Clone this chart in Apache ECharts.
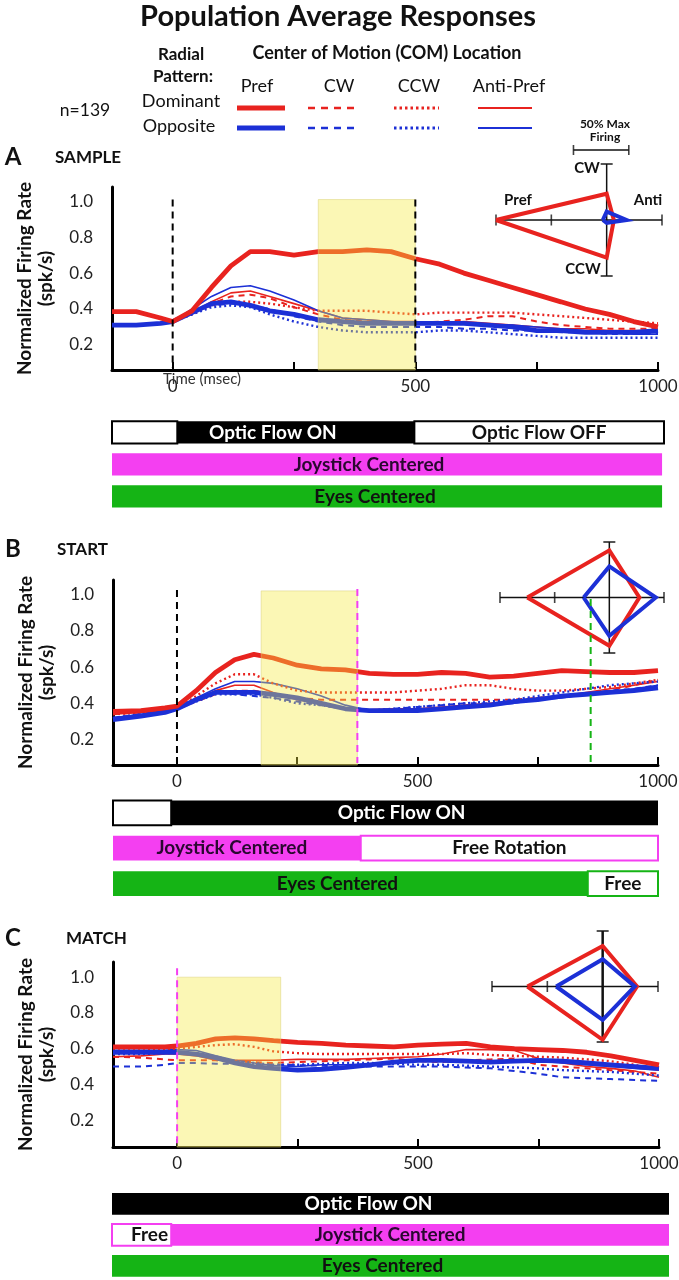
<!DOCTYPE html>
<html>
<head>
<meta charset="utf-8">
<script src="https://cdn.jsdelivr.net/npm/echarts@6/dist/echarts.min.js"></script>
<style>
html, body { margin: 0; background: #fff; }
#chart { width: 679px; height: 1280px; }
</style>
</head>
<body>
<div id="chart"></div>
<script>
"use strict";
// time points (msec) for each panel
const tA = [-125, -75, -25, 0, 40, 80, 120, 160, 200, 250, 300, 350, 400, 450, 500, 550, 600, 650, 700, 750, 800, 850, 900, 950, 1000];
const tB = [-133, -75, -25, 0, 40, 80, 120, 160, 200, 250, 300, 350, 400, 450, 500, 550, 600, 650, 700, 750, 800, 850, 900, 950, 1000];
const tC = [-133, -75, -25, 0, 40, 80, 120, 160, 200, 250, 300, 350, 400, 450, 500, 550, 600, 650, 700, 750, 800, 850, 900, 950, 1000];

// A: SAMPLE
const redPrefA = [0.385, 0.385, 0.35, 0.33, 0.39, 0.52, 0.64, 0.72, 0.72, 0.70, 0.72, 0.72, 0.73, 0.72, 0.68, 0.65, 0.60, 0.56, 0.52, 0.48, 0.44, 0.40, 0.37, 0.33, 0.30];
const redCwA = [0.31, 0.31, 0.32, 0.33, 0.38, 0.43, 0.47, 0.48, 0.46, 0.41, 0.37, 0.34, 0.33, 0.32, 0.32, 0.33, 0.34, 0.36, 0.36, 0.33, 0.31, 0.30, 0.29, 0.29, 0.29];
const redCcwA = [0.31, 0.31, 0.32, 0.33, 0.37, 0.42, 0.44, 0.44, 0.43, 0.41, 0.39, 0.39, 0.39, 0.38, 0.37, 0.38, 0.38, 0.38, 0.38, 0.37, 0.36, 0.35, 0.34, 0.33, 0.32];
const redAntiA = [0.31, 0.31, 0.32, 0.33, 0.38, 0.44, 0.49, 0.50, 0.47, 0.43, 0.39, 0.35, 0.34, 0.33, 0.33, 0.32, 0.33, 0.32, 0.31, 0.30, 0.29, 0.29, 0.28, 0.28, 0.28];
const bluePrefA = [0.31, 0.31, 0.32, 0.33, 0.38, 0.43, 0.44, 0.42, 0.39, 0.37, 0.34, 0.33, 0.32, 0.32, 0.32, 0.32, 0.32, 0.31, 0.30, 0.28, 0.28, 0.27, 0.27, 0.27, 0.28];
const blueCwA = [0.31, 0.31, 0.32, 0.33, 0.38, 0.42, 0.43, 0.42, 0.40, 0.36, 0.33, 0.31, 0.30, 0.30, 0.30, 0.30, 0.29, 0.29, 0.28, 0.28, 0.27, 0.27, 0.26, 0.26, 0.26];
const blueCcwA = [0.31, 0.31, 0.32, 0.33, 0.37, 0.41, 0.42, 0.41, 0.37, 0.33, 0.30, 0.28, 0.27, 0.27, 0.27, 0.28, 0.28, 0.27, 0.26, 0.25, 0.24, 0.24, 0.24, 0.24, 0.24];
const blueAntiA = [0.31, 0.31, 0.32, 0.33, 0.40, 0.47, 0.52, 0.53, 0.50, 0.45, 0.39, 0.35, 0.34, 0.33, 0.32, 0.32, 0.32, 0.31, 0.31, 0.30, 0.29, 0.28, 0.27, 0.26, 0.26];

// B: START
const redPrefB = [0.355, 0.36, 0.375, 0.385, 0.47, 0.57, 0.64, 0.67, 0.65, 0.61, 0.59, 0.585, 0.565, 0.56, 0.56, 0.57, 0.565, 0.545, 0.55, 0.565, 0.58, 0.575, 0.57, 0.57, 0.58];
const redCwB = [0.34, 0.35, 0.36, 0.37, 0.41, 0.45, 0.47, 0.47, 0.45, 0.43, 0.42, 0.42, 0.42, 0.42, 0.42, 0.42, 0.42, 0.42, 0.42, 0.43, 0.44, 0.45, 0.47, 0.50, 0.53];
const redCcwB = [0.34, 0.35, 0.36, 0.37, 0.44, 0.51, 0.56, 0.56, 0.51, 0.47, 0.46, 0.46, 0.46, 0.46, 0.47, 0.48, 0.50, 0.50, 0.48, 0.47, 0.47, 0.48, 0.49, 0.51, 0.53];
const redAntiB = [0.34, 0.35, 0.36, 0.37, 0.42, 0.47, 0.50, 0.50, 0.46, 0.42, 0.40, 0.37, 0.365, 0.37, 0.37, 0.38, 0.39, 0.40, 0.41, 0.43, 0.44, 0.46, 0.48, 0.50, 0.52];
const bluePrefB = [0.31, 0.33, 0.35, 0.37, 0.42, 0.46, 0.46, 0.46, 0.45, 0.43, 0.40, 0.37, 0.36, 0.36, 0.36, 0.37, 0.38, 0.39, 0.41, 0.42, 0.44, 0.45, 0.46, 0.47, 0.485];
const blueCwB = [0.32, 0.34, 0.355, 0.37, 0.42, 0.46, 0.45, 0.44, 0.43, 0.41, 0.39, 0.37, 0.36, 0.37, 0.38, 0.39, 0.40, 0.40, 0.41, 0.43, 0.44, 0.45, 0.47, 0.48, 0.50];
const blueCcwB = [0.32, 0.34, 0.355, 0.37, 0.41, 0.45, 0.45, 0.45, 0.43, 0.40, 0.39, 0.37, 0.36, 0.37, 0.38, 0.39, 0.40, 0.41, 0.42, 0.44, 0.46, 0.48, 0.50, 0.51, 0.52];
const blueAntiB = [0.32, 0.34, 0.355, 0.37, 0.43, 0.48, 0.52, 0.52, 0.51, 0.48, 0.44, 0.39, 0.36, 0.36, 0.37, 0.37, 0.38, 0.39, 0.40, 0.42, 0.43, 0.45, 0.46, 0.48, 0.50];

// C: MATCH
const redPrefC = [0.61, 0.61, 0.61, 0.615, 0.63, 0.655, 0.66, 0.655, 0.645, 0.635, 0.63, 0.62, 0.615, 0.61, 0.62, 0.625, 0.63, 0.61, 0.60, 0.595, 0.59, 0.58, 0.56, 0.535, 0.51];
const redCwC = [0.555, 0.55, 0.54, 0.535, 0.535, 0.535, 0.53, 0.525, 0.52, 0.525, 0.53, 0.535, 0.54, 0.545, 0.53, 0.525, 0.535, 0.54, 0.545, 0.51, 0.50, 0.49, 0.48, 0.47, 0.46];
const redCcwC = [0.59, 0.59, 0.595, 0.60, 0.61, 0.62, 0.625, 0.61, 0.585, 0.575, 0.57, 0.57, 0.57, 0.57, 0.57, 0.57, 0.575, 0.565, 0.56, 0.555, 0.55, 0.54, 0.53, 0.51, 0.48];
const redAntiC = [0.555, 0.56, 0.57, 0.57, 0.56, 0.535, 0.535, 0.535, 0.535, 0.54, 0.54, 0.54, 0.545, 0.55, 0.555, 0.57, 0.595, 0.595, 0.59, 0.545, 0.52, 0.50, 0.49, 0.475, 0.44];
const bluePrefC = [0.58, 0.58, 0.58, 0.58, 0.57, 0.55, 0.52, 0.50, 0.49, 0.48, 0.485, 0.495, 0.51, 0.525, 0.535, 0.535, 0.53, 0.525, 0.53, 0.535, 0.53, 0.52, 0.51, 0.50, 0.49];
const blueCwC = [0.50, 0.50, 0.51, 0.52, 0.52, 0.516, 0.515, 0.512, 0.51, 0.508, 0.505, 0.50, 0.50, 0.50, 0.50, 0.50, 0.495, 0.49, 0.475, 0.46, 0.44, 0.435, 0.43, 0.425, 0.42];
const blueCcwC = [0.57, 0.57, 0.575, 0.575, 0.57, 0.55, 0.53, 0.52, 0.51, 0.51, 0.515, 0.52, 0.52, 0.515, 0.51, 0.51, 0.505, 0.50, 0.495, 0.49, 0.48, 0.475, 0.47, 0.46, 0.45];
const blueAntiC = [0.60, 0.60, 0.60, 0.595, 0.59, 0.56, 0.535, 0.52, 0.505, 0.50, 0.51, 0.51, 0.515, 0.52, 0.535, 0.535, 0.535, 0.53, 0.535, 0.53, 0.52, 0.51, 0.50, 0.49, 0.48];

// analysis windows (yellow) and event markers
const windowA = [300, 500];
const windowB = [175, 375];
const windowC = [0, 215];
const eventTimesA = [0, 500];
const eventTimesB = [0, 375, 860];
const eventTimesC = [0];
const eventTopsA = [1.01, 1.01];
const eventTopsB = [1.025, 1.03, 0.975];
const eventTopsC = [1.05];

// radial plots: [Pref, CW, Anti, CCW] in units of 50% max firing
const domInsetA = [2.0, 0.47, 0.13, 0.67];
const oppInsetA = [0.07, 0.15, 0.36, 0.05];
const domInsetB = [1.5, 0.85, 0.55, 0.87];
const oppInsetB = [0.47, 0.56, 0.85, 0.69];
const domInsetC = [1.36, 0.73, 0.62, 0.96];
const oppInsetC = [0.84, 0.49, 0.58, 0.60];
const insetHArm = [-2, 1];
const insetVArm = [-1, 1];
const insetHTicks = [-2, -1, 1];
const insetVTicks = [-1, 1];
const scaleBarX = [-0.6, 0.4];
const scaleBarY = 1.25;

// task-epoch bars
const barStartA = [-125, 500, 10, -125, -125];
const barEndA = [10, 1016, 500, 1012, 1012];
const barRowA = [0, 0, 0, 1, 2];
const barKindA = ["open", "open", "black", "magenta", "green"];
const barTextA = ["", "Optic Flow OFF", "Optic Flow ON", "Joystick Centered", "Eyes Centered"];
const barStartB = [-133, -12, -133, 382, -133, 854];
const barEndB = [-12, 1000, 382, 1000, 854, 1000];
const barRowB = [0, 0, 1, 1, 2, 2];
const barKindB = ["open", "black", "magenta", "magentaOpen", "green", "greenOpen"];
const barTextB = ["", "Optic Flow ON", "Joystick Centered", "Free Rotation", "Eyes Centered", "Free"];
const barStartC = [-135, -135, -12, -135];
const barEndC = [1022, -12, 1022, 1022];
const barRowC = [0, 1, 1, 2];
const barKindC = ["black", "magentaOpen", "magenta", "green"];
const barTextC = ["Optic Flow ON", "Free", "Joystick Centered", "Eyes Centered"];

// label nudges (px) inside the epoch bars
const barShiftA = [0, 0, -23, -18, -12];
const barShiftB = [0, -13, -5, 0, -13, 0];
const barShiftC = [-22, 8, -30, -8];

const RED = "#e8231f";
const BLUE = "#1c30d6";
const MAGENTA = "#f43ff1";
const GREEN = "#15b415";
const FONT = "Lato";

const kinds = {
    Anti: { width: 1.6, type: "solid" },
    CW: { width: 2, type: [6, 5] },
    CCW: { width: 2.4, type: [2, 3] },
    Pref: { width: 4.8, type: "solid" },
};
const barKinds = {
    open: { fill: "#fff", stroke: "#000", text: "#111" },
    black: { fill: "#000", stroke: null, text: "#fff" },
    magenta: { fill: MAGENTA, stroke: null, text: "#2a0830" },
    magentaOpen: { fill: "#fff", stroke: MAGENTA, text: "#111" },
    green: { fill: GREEN, stroke: null, text: "#111" },
    greenOpen: { fill: "#fff", stroke: GREEN, text: "#111" },
};

const pairs = (t, v) => t.map((x, i) => [x, v[i]]);

const panels = [
    { grid: { left: 112, top: 187, width: 546, height: 183 }, xMin: -125, yMin: 0.06, yMax: 1.08, t: tA,
        red: { Anti: redAntiA, CW: redCwA, CCW: redCcwA, Pref: redPrefA },
        blue: { Anti: blueAntiA, CW: blueCwA, CCW: blueCcwA, Pref: bluePrefA },
        win: windowA, winTop: 1.01, evT: eventTimesA, evTop: eventTopsA, evColor: ["#000", "#000"] },
    { grid: { left: 113, top: 580, width: 545, height: 185 }, xMin: -133, yMin: 0.06, yMax: 1.08, t: tB,
        red: { Anti: redAntiB, CW: redCwB, CCW: redCcwB, Pref: redPrefB },
        blue: { Anti: blueAntiB, CW: blueCwB, CCW: blueCcwB, Pref: bluePrefB },
        win: windowB, winTop: 1.02, evT: eventTimesB, evTop: eventTopsB, evColor: ["#000", MAGENTA, GREEN] },
    { grid: { left: 113, top: 962, width: 546, height: 185 }, xMin: -133, yMin: 0.05, yMax: 1.085, t: tC,
        red: { Anti: redAntiC, CW: redCwC, CCW: redCcwC, Pref: redPrefC },
        blue: { Anti: blueAntiC, CW: blueCwC, CCW: blueCcwC, Pref: bluePrefC },
        win: windowC, winTop: 1.0, evT: eventTimesC, evTop: eventTopsC, evColor: [MAGENTA] },
];
const insets = [
    { grid: { left: 496, top: 164, width: 166, height: 112 }, dom: domInsetA, opp: oppInsetA, vWidth: 1.5 },
    { grid: { left: 500, top: 542, width: 164, height: 111 }, dom: domInsetB, opp: oppInsetB, vWidth: 1.5 },
    { grid: { left: 492, top: 931, width: 166, height: 111 }, dom: domInsetC, opp: oppInsetC, vWidth: 2.5 },
];
const timelines = [
    { grid: { left: 112, top: 418, width: 552, height: 96 }, min: -125, max: 1016, s: barStartA, e: barEndA, r: barRowA, k: barKindA, txt: barTextA, sh: barShiftA },
    { grid: { left: 113, top: 797, width: 545, height: 106 }, min: -133, max: 1000, s: barStartB, e: barEndB, r: barRowB, k: barKindB, txt: barTextB, sh: barShiftB },
    { grid: { left: 112, top: 1190, width: 557, height: 93 }, min: -135, max: 1022, s: barStartC, e: barEndC, r: barRowC, k: barKindC, txt: barTextC, sh: barShiftC },
];

const grids = [];
const xAxes = [];
const yAxes = [];
const series = [];

panels.forEach((p, gi) => {
    grids.push({ ...p.grid, outerBoundsMode: "none", containLabel: false });
    xAxes.push({
        gridIndex: gi, type: "value", min: p.xMin, max: 1000,
        axisLine: { onZero: false, lineStyle: { color: "#000", width: 3 } },
        axisTick: { inside: true, length: 8, customValues: [0, 250, 500, 750, 1000], lineStyle: { color: "#000", width: 2 } },
        axisLabel: { customValues: [0, 500, 1000], formatter: (v) => String(v), color: "#222", fontSize: 17, fontFamily: FONT, margin: 8 },
        splitLine: { show: false },
    });
    yAxes.push({
        gridIndex: gi, type: "value", min: p.yMin, max: p.yMax,
        axisLine: { show: true, onZero: false, lineStyle: { color: "#000", width: 3 } },
        axisTick: { show: false },
        axisLabel: { customValues: [0.2, 0.4, 0.6, 0.8, 1.0], formatter: (v) => v.toFixed(1), color: "#222", fontSize: 17, fontFamily: FONT, margin: 19 },
        splitLine: { show: false },
        name: "Normalized Firing Rate\n(spk/s)", nameLocation: "middle", nameGap: 56,
        nameTextStyle: { fontFamily: FONT, fontWeight: "bold", fontSize: 19, color: "#111", lineHeight: 21 },
    });
    ["Anti", "CW", "CCW"].forEach((key) => {
        series.push({ type: "line", name: "Dominant " + key, xAxisIndex: gi, yAxisIndex: gi, data: pairs(p.t, p.red[key]), symbol: "none", silent: true, z: 2,
            lineStyle: { color: RED, width: kinds[key].width, type: kinds[key].type } });
        series.push({ type: "line", name: "Opposite " + key, xAxisIndex: gi, yAxisIndex: gi, data: pairs(p.t, p.blue[key]), symbol: "none", silent: true, z: 2,
            lineStyle: { color: BLUE, width: kinds[key].width, type: kinds[key].type } });
    });
    series.push({ type: "line", name: "Opposite Pref", xAxisIndex: gi, yAxisIndex: gi, data: pairs(p.t, p.blue.Pref), symbol: "none", silent: true, z: 3,
        lineStyle: { color: BLUE, width: kinds.Pref.width } });
    series.push({ type: "line", name: "Dominant Pref", xAxisIndex: gi, yAxisIndex: gi, data: pairs(p.t, p.red.Pref), symbol: "none", silent: true, z: 3,
        lineStyle: { color: RED, width: kinds.Pref.width } });
    // analysis window, drawn over the traces like the semi-transparent box in the figure
    series.push({
        type: "custom", xAxisIndex: gi, yAxisIndex: gi, silent: true, z: 4,
        data: [[p.win[0], p.win[1], p.winTop]], encode: { x: [0, 1], y: 2 },
        renderItem: (params, api) => {
            const a = api.coord([api.value(0), api.value(2)]);
            const b = api.coord([api.value(1), p.yMin]);
            return { type: "rect", shape: { x: a[0], y: a[1], width: b[0] - a[0], height: b[1] - a[1] },
                style: { fill: "rgba(244,234,60,0.38)", stroke: "rgba(220,210,120,0.5)", lineWidth: 1 } };
        },
    });
    series.push({
        type: "custom", xAxisIndex: gi, yAxisIndex: gi, silent: true, z: 5,
        data: p.evT.map((t, i) => [t, p.evTop[i]]), encode: { x: 0, y: 1 },
        renderItem: (params, api) => {
            const a = api.coord([api.value(0), api.value(1)]);
            const b = api.coord([api.value(0), p.yMin]);
            return { type: "line", shape: { x1: a[0], y1: a[1], x2: b[0], y2: b[1] - 2 },
                style: { stroke: p.evColor[params.dataIndex], lineWidth: 2, lineDash: [7, 5] } };
        },
    });
});

insets.forEach((ins, n) => {
    const gi = 3 + n;
    grids.push({ ...ins.grid, outerBoundsMode: "none", containLabel: false });
    xAxes.push({ gridIndex: gi, type: "value", min: insetHArm[0], max: insetHArm[1], show: false });
    yAxes.push({ gridIndex: gi, type: "value", min: insetVArm[0], max: insetVArm[1], show: false });
    const base = { xAxisIndex: gi, yAxisIndex: gi, silent: true };
    series.push({ ...base, type: "line", data: insetHArm.map((x) => [x, 0]), symbol: "none", z: 2, lineStyle: { color: "#111", width: 1.5 } });
    series.push({ ...base, type: "line", data: insetVArm.map((y) => [0, y]), symbol: "none", z: 2, lineStyle: { color: "#111", width: ins.vWidth } });
    series.push({ ...base, type: "scatter", data: insetHTicks.map((x) => [x, 0]), symbol: "rect", symbolSize: [1.6, 11], itemStyle: { color: "#111" }, clip: false, z: 2 });
    series.push({ ...base, type: "scatter", data: insetVTicks.map((y) => [0, y]), symbol: "rect", symbolSize: [12, 1.8], itemStyle: { color: "#111" }, clip: false, z: 2 });
    const shape = (v) => [[-v[0], 0], [0, v[1]], [v[2], 0], [0, -v[3]], [-v[0], 0]];
    series.push({ ...base, type: "line", name: "Dominant", data: shape(ins.dom), symbol: "none", clip: false, z: 3, lineStyle: { color: RED, width: 4, join: "miter" } });
    series.push({ ...base, type: "line", name: "Opposite", data: shape(ins.opp), symbol: "none", clip: false, z: 4, lineStyle: { color: BLUE, width: 4, join: "miter" } });
    if (n === 0) {
        series.push({ ...base, type: "line", data: scaleBarX.map((x) => [x, scaleBarY]), symbol: "none", clip: false, lineStyle: { color: "#111", width: 1.5 } });
        series.push({ ...base, type: "scatter", data: scaleBarX.map((x) => [x, scaleBarY]), symbol: "rect", symbolSize: [1.6, 10], itemStyle: { color: "#111" }, clip: false });
    }
});

timelines.forEach((tl, n) => {
    const gi = 6 + n;
    grids.push({ ...tl.grid, outerBoundsMode: "none", containLabel: false });
    xAxes.push({ gridIndex: gi, type: "value", min: tl.min, max: tl.max, show: false });
    yAxes.push({ gridIndex: gi, type: "value", min: 0, max: 3, inverse: true, show: false });
    series.push({
        type: "custom", xAxisIndex: gi, yAxisIndex: gi, silent: true,
        data: tl.s.map((s, i) => [s, tl.e[i], tl.r[i]]), encode: { x: [0, 1], y: 2 },
        renderItem: (params, api) => {
            const i = params.dataIndex;
            const row = api.value(2);
            const a = api.coord([api.value(0), row + 0.1]);
            const b = api.coord([api.value(1), row + 0.8]);
            const k = barKinds[tl.k[i]];
            return {
                type: "rect",
                shape: { x: a[0], y: a[1], width: b[0] - a[0], height: b[1] - a[1] },
                style: { fill: k.fill, stroke: k.stroke || k.fill, lineWidth: k.stroke ? 2 : 0 },
                textContent: { style: { text: tl.txt[i], fill: k.text, font: "bold 19px " + FONT } },
                textConfig: { position: "inside", offset: [tl.sh[i], 0] },
            };
        },
    });
});

const txt = (text, x, y, font, align, color) => ({
    type: "text", silent: true, z: 20,
    style: { text, x, y, font, textAlign: align || "center", textVerticalAlign: "middle", fill: color || "#111" },
});
const seg = (x1, x2, y, color, width, dash) => ({
    type: "line", silent: true, z: 20,
    shape: { x1, y1: y, x2, y2: y },
    style: { stroke: color, lineWidth: width, lineDash: dash || null },
});

const graphics = [
    txt("Population Average Responses", 338, 17, "bold 29px " + FONT),
    txt("Radial", 181, 55, "bold 17px " + FONT),
    txt("Pattern:", 183, 77, "bold 17px " + FONT),
    txt("Center of Motion (COM) Location", 387, 53, "bold 18px " + FONT),
    txt("Pref", 257, 86, "18px " + FONT),
    txt("CW", 339, 86, "18px " + FONT),
    txt("CCW", 419, 86, "18px " + FONT),
    txt("Anti-Pref", 509, 86, "18px " + FONT),
    txt("Dominant", 181, 101, "18px " + FONT),
    txt("Opposite", 179, 126, "18px " + FONT),
    txt("n=139", 85, 110, "17.5px " + FONT),
    seg(237, 285, 108, RED, 5), seg(308, 357, 108, RED, 2.5, [7, 6]), seg(394, 439, 108, RED, 3, [2.5, 3]), seg(478, 532, 108, RED, 2),
    seg(237, 285, 128, BLUE, 5), seg(308, 357, 128, BLUE, 2.5, [7, 6]), seg(394, 439, 128, BLUE, 3, [2.5, 3]), seg(478, 532, 128, BLUE, 2),
    txt("50% Max", 605, 124, "bold 12px " + FONT),
    txt("Firing", 605, 137, "bold 12px " + FONT),
    txt("Pref", 518, 200, "bold 15px " + FONT),
    txt("Anti", 648, 200, "bold 15px " + FONT),
    txt("CW", 587, 168, "bold 15px " + FONT),
    txt("CCW", 583, 269, "bold 15px " + FONT),
    txt("A", 13, 157, "bold 24px " + FONT),
    txt("SAMPLE", 55, 158, "bold 17px " + FONT, "left"),
    txt("Time (msec)", 163, 379, "15px " + FONT, "left", "#333"),
    txt("B", 13, 549, "bold 24px " + FONT),
    txt("START", 57, 550, "bold 17px " + FONT, "left"),
    txt("C", 13, 938, "bold 24px " + FONT),
    txt("MATCH", 66, 939, "bold 17px " + FONT, "left"),
];

const chart = echarts.init(document.getElementById("chart"), null, { renderer: "canvas" });
chart.setOption({
    animation: false,
    backgroundColor: "#fff",
    textStyle: { fontFamily: FONT },
    grid: grids,
    xAxis: xAxes,
    yAxis: yAxes,
    series,
    graphic: graphics,
});
</script>
</body>
</html>
